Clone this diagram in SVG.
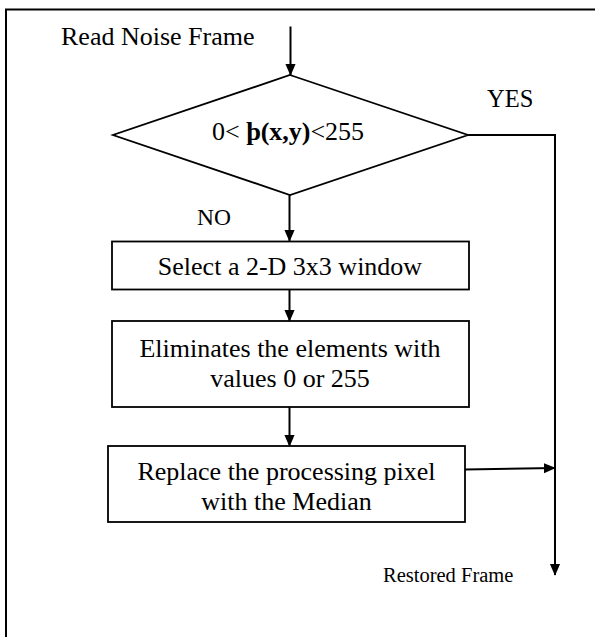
<svg xmlns="http://www.w3.org/2000/svg" width="595" height="637" viewBox="0 0 595 637">
<style>
.t{font-family:"Liberation Serif","Times New Roman",serif;font-size:26px;fill:#000}
.s{fill:#fff;stroke:#000;stroke-width:1.8}
.c{fill:none;stroke:#000;stroke-width:2}
</style>
<defs>
<marker id="ah" markerWidth="12" markerHeight="12" refX="13" refY="6" viewBox="0 0 14 12" orient="auto" markerUnits="userSpaceOnUse">
<path d="M0,0 L14,6 L0,12 Z" fill="#000"/>
</marker>
</defs>
<rect x="6" y="9.5" width="620" height="660" fill="none" stroke="#000" stroke-width="2"/>
<text class="t" x="61" y="45">Read Noise Frame</text>
<g id="decision">
<polygon class="s" points="290,75 468,135 290,195 113,135"/>
<text class="t" x="212" y="140">0&lt; <tspan font-weight="bold">þ(x,y)</tspan>&lt;255</text>
</g>
<g id="select">
<rect class="s" x="112" y="241.5" width="357" height="48"/>
<text class="t" x="290" y="275" text-anchor="middle">Select a 2-D 3x3 window</text>
</g>
<g id="eliminate">
<rect class="s" x="112" y="321" width="357" height="86"/>
<text class="t" x="290" y="357" text-anchor="middle">Eliminates the elements with</text>
<text class="t" x="290" y="387" text-anchor="middle">values 0 or 255</text>
</g>
<g id="replace">
<rect class="s" x="108" y="446" width="357" height="76"/>
<text class="t" x="286.5" y="480" text-anchor="middle">Replace the processing pixel</text>
<text class="t" x="286.5" y="510" text-anchor="middle">with the Median</text>
</g>
<g id="labels">
<text class="t" x="487" y="107" style="font-size:24.5px">YES</text>
<text class="t" x="197" y="225" style="font-size:23.5px">NO</text>
<text class="t" x="383" y="582" style="font-size:20.5px">Restored Frame</text>
</g>
<g id="connectors">
<line class="c" x1="290.5" y1="26.5" x2="290.5" y2="75" marker-end="url(#ah)"/>
<line class="c" x1="289.5" y1="195" x2="289.5" y2="241" marker-end="url(#ah)"/>
<line class="c" x1="289.5" y1="290" x2="289.5" y2="321" marker-end="url(#ah)"/>
<line class="c" x1="289.5" y1="407" x2="289.5" y2="446" marker-end="url(#ah)"/>
<polyline class="c" points="468,135 555,135 555,575" marker-end="url(#ah)"/>
<line class="c" x1="465" y1="469.5" x2="555" y2="468" marker-end="url(#ah)"/>
</g>
</svg>
